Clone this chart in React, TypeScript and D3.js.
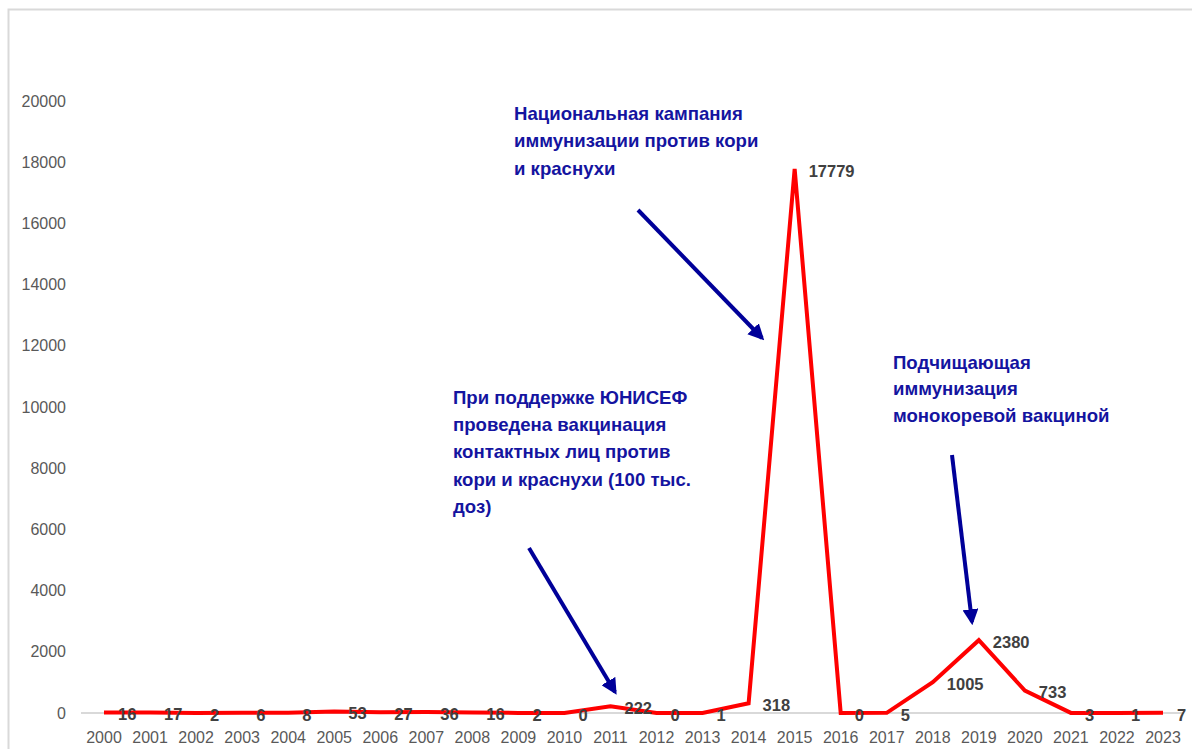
import React from 'react';
import * as d3 from 'd3';

const years = [
    '2000', '2001', '2002', '2003', '2004', '2005', '2006', '2007',
    '2008', '2009', '2010', '2011', '2012', '2013', '2014', '2015',
    '2016', '2017', '2018', '2019', '2020', '2021', '2022', '2023'
];

const cases = [
    16, 17, 2, 6, 8, 53, 27, 36,
    16, 2, 0, 222, 0, 1, 318, 17779,
    0, 5, 1005, 2380, 733, 3, 1, 7
];

const yTicks = [0, 2000, 4000, 6000, 8000, 10000, 12000, 14000, 16000, 18000, 20000];

const notes = [
    {
        lines: ['Национальная кампания', 'иммунизации против кори', 'и краснухи'],
        x: 514, y: 113, step: 27.8,
        arrow: [[638, 210], [762, 338]]
    },
    {
        lines: ['При поддержке ЮНИСЕФ', 'проведена вакцинация', 'контактных лиц против', 'кори и краснухи (100 тыс.', 'доз)'],
        x: 453, y: 397, step: 27.4,
        arrow: [[529, 548], [615, 692]]
    },
    {
        lines: ['Подчищающая', 'иммунизация', 'монокоревой вакциной'],
        x: 893, y: 362, step: 26.8,
        arrow: [[952, 455], [972, 622]]
    }
];

const width = 1192;
const height = 749;
const font = 'Arial, "Liberation Sans", sans-serif';

export default function App() {
    const x = d3.scalePoint().domain(years).range([104, 1163]);
    const y = d3.scaleLinear().domain([0, 20000]).range([713, 101]);

    const line = d3.line<number>()
        .x((_, i) => x(years[i]) as number)
        .y((d) => y(d));

    return (
        <div style={{position: 'absolute', left: 0, top: 0}}>
            <svg width={width} height={height} style={{display: 'block', fontFamily: font}}>
                <rect width={width} height={height} fill="white" />
                {/* frame */}
                <path d={`M8.5,${height} V9.5 H${width}`} fill="none" stroke="#d9d9d9" strokeWidth={2} />

                <defs>
                    <marker id="head" viewBox="0 0 10 10" refX="8" refY="5"
                        markerWidth="4" markerHeight="4" orient="auto" markerUnits="strokeWidth">
                        <path d="M0,0 L10,5 L0,10 z" fill="#000099" />
                    </marker>
                </defs>

                {/* y axis labels */}
                {yTicks.map((t) => (
                    <text key={t} x={66} y={y(t)} dy="0.35em" textAnchor="end"
                        fontSize={16} fill="#595959">{t}</text>
                ))}

                {/* baseline */}
                <line x1={81} x2={1184} y1={y(0)} y2={y(0)} stroke="#d9d9d9" strokeWidth={2} />

                {/* x labels */}
                {years.map((yr) => (
                    <text key={yr} x={x(yr)} y={737} dy="0.35em" textAnchor="middle"
                        fontSize={16} fill="#595959">{yr}</text>
                ))}

                <path d={line(cases) || ''} fill="none" stroke="#ff0000" strokeWidth={4}
                    strokeLinejoin="miter" />

                {/* data labels */}
                {cases.map((v, i) => (
                    <text key={i} x={(x(years[i]) as number) + 14} y={y(v) + 2} dy="0.35em"
                        fontSize={16.5} fontWeight="bold" fill="#404040">{v}</text>
                ))}

                {/* annotations */}
                {notes.map((n, k) => (
                    <g key={k}>
                        {n.lines.map((s, j) => (
                            <text key={j} x={n.x} y={n.y + j * n.step} dy="0.35em"
                                fontSize={18.6} fontWeight="bold" fill="#1414a0">{s}</text>
                        ))}
                        <line x1={n.arrow[0][0]} y1={n.arrow[0][1]} x2={n.arrow[1][0]} y2={n.arrow[1][1]}
                            stroke="#000099" strokeWidth={4} markerEnd="url(#head)" />
                    </g>
                ))}
            </svg>
        </div>
    );
}
